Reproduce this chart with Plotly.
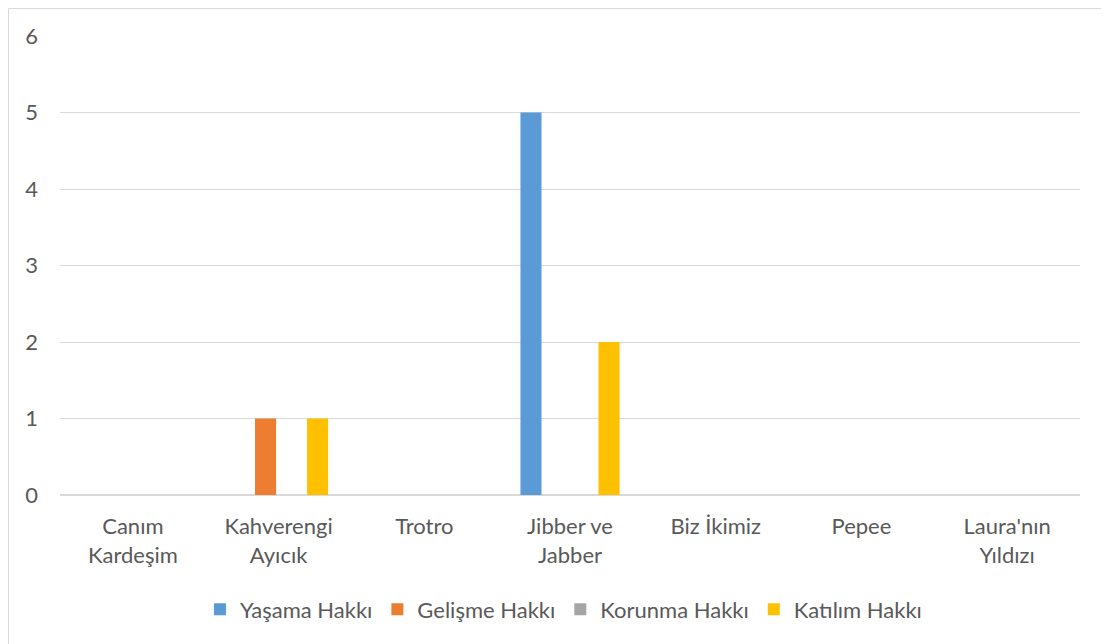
import plotly.graph_objects as go

categories = ["Canım<br>Kardeşim", "Kahverengi<br>Ayıcık", "Trotro", "Jibber ve<br>Jabber",
              "Biz İkimiz", "Pepee", "Laura'nın<br>Yıldızı"]
yasama = [0, 0, 0, 5, 0, 0, 0]
gelisme = [0, 1, 0, 0, 0, 0, 0]
korunma = [0, 0, 0, 0, 0, 0, 0]
katilim = [0, 1, 0, 2, 0, 0, 0]

series = [
    ("Yaşama Hakkı", yasama, "#5B9BD5"),
    ("Gelişme Hakkı", gelisme, "#ED7D31"),
    ("Korunma Hakkı", korunma, "#A5A5A5"),
    ("Katılım Hakkı", katilim, "#FFC000"),
]

fig = go.Figure()
for name, vals, color in series:
    fig.add_trace(go.Bar(x=categories, y=vals, name=name, marker_color=color,
                         marker_line_width=0))

font_family = "Lato, Open Sans, sans-serif"
# page body has an 8px margin; figure sized to fill the remaining window
W, H = 1101, 636
L, R, T, B = 52, 29, 28, 149
pw, ph = W - L - R, H - T - B

fig.update_layout(
    width=W, height=H,
    margin=dict(l=L, r=R, t=T, b=B),
    paper_bgcolor="white", plot_bgcolor="white",
    barmode="group", bargap=0.286, bargroupgap=0.19,
    font=dict(family=font_family, size=22, color="#595959"),
    showlegend=True,
    legend=dict(orientation="h", x=0.4936, xanchor="center", y=-114.5 / ph, yanchor="middle",
                font=dict(size=22, color="#595959"), itemwidth=30, traceorder="normal"),
    xaxis=dict(showgrid=False, showline=True, linecolor="#d9d9d9", linewidth=1,
               ticks="", ticklabelstandoff=12, tickfont=dict(size=22, color="#595959")),
    yaxis=dict(range=[0, 6], dtick=1, showgrid=True, gridcolor="#d9d9d9", gridwidth=1,
               zeroline=True, zerolinecolor="#d9d9d9", showline=False, ticks="",
               ticklabelstandoff=21, tickfont=dict(size=22, color="#595959")),
)

fig.add_shape(type="rect", xref="paper", yref="paper",
              x0=(0.5 - L) / pw, x1=(1099.5 - L) / pw,
              y0=-(B + 5) / ph, y1=(ph + T - 0.5) / ph,
              line=dict(color="#d9d9d9", width=1), fillcolor="rgba(0,0,0,0)", layer="below")

fig.write_html("out.html")
